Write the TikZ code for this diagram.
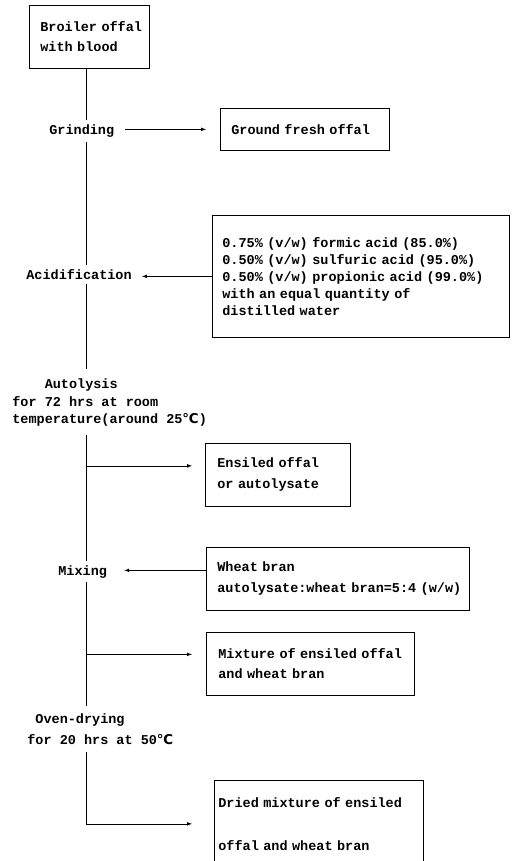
\documentclass[tikz,border=0pt]{standalone}
\usepackage{fontspec}
\setmonofont{Liberation Mono}
\newfontfamily\degfont{DejaVu Sans}
\newcommand{\dgC}{{\degfont\bfseries ℃}}

\tikzset{
  box/.style={draw, anchor=north west, align=left, inner ysep=0pt},
  stage/.style={inner xsep=0pt, inner ysep=4pt, align=left},
}

\begin{document}
\begin{tikzpicture}[x=1pt,y=1pt,line width=0.7pt,
    font=\fontsize{13.5}{17}\selectfont\ttfamily\bfseries]
    \path[use as bounding box, fill=white] (0,0) rectangle (515,-861);
    \clip (0,0) rectangle (515,-861);
    \coordinate (spine) at (86,0);
    % boxes
    \node[box, text width=98pt, inner xsep=11pt, minimum height=63pt] (broiler) at (29,-5) {\mbox{Broiler offal}\\[3pt]with blood};
    \node[box, text width=147pt, inner xsep=11pt, minimum height=42pt] (ground) at (220,-108) {Ground fresh offal};
    \node[box, text width=277pt, inner xsep=10pt, minimum height=122pt] (acidbox) at (212,-215) {0.75\% (v/w) formic acid (85.0\%)\\0.50\% (v/w) sulfuric acid (95.0\%)\\0.50\% (v/w) propionic acid (99.0\%)\\with an equal quantity of\\distilled water};
    \node[box, text width=121pt, inner xsep=12pt, minimum height=63pt] (ensiled) at (205,-443) {Ensiled offal\\[4pt]or autolysate};
    \node[box, text width=241pt, inner xsep=11pt, minimum height=63pt] (wheat) at (206,-547) {Wheat bran\\[4pt]\mbox{autolysate:wheat bran=5:4 (w/w)}};
    \node[box, text width=184pt, inner xsep=12pt, minimum height=63pt] (mixture) at (206,-632) {\mbox{Mixture of ensiled offal}\\[3pt]and wheat bran};
    \node[box, text width=201pt, inner xsep=4pt, minimum height=87pt] (dried) at (214,-780) {Dried mixture of ensiled\\[26pt]offal and wheat bran};%
    % steps
    \node[stage, anchor=base west] (grind) at (49,-134.5) {Grinding};
    \node[stage, anchor=base west] (acid) at (26,-279.5) {Acidification};
    \node[stage, anchor=west, inner ysep=9pt] (autol) at (12,-402) {\phantom{for }Autolysis\\[1pt]for 72 hrs at room\\temperature(around 25\dgC)};
    \node[stage, anchor=base west] (mix) at (58,-575) {Mixing};
    \node[stage, anchor=west, inner ysep=7pt] (oven) at (27,-729) {\hspace*{8.1pt}Oven-drying\\[4pt]for 20 hrs at 50\dgC};%
    % main line
    \draw (broiler.south -| spine) -- (grind.north -| spine);
    \draw (grind.south -| spine) -- (acid.north -| spine);
    \draw (acid.south -| spine) -- (autol.north -| spine);
    \draw (autol.south -| spine) -- (mix.north -| spine);
    \draw (mix.south -| spine) -- (oven.north -| spine);
    \coordinate (bend) at (dried.west -| spine);
    \draw[-latex, shorten >=22pt] (oven.south -| spine) -- (bend) -- (dried.west);%
    % side arrows
    \draw[-latex, shorten <=10pt, shorten >=14pt] (grind.east |- ground.west) -- (ground.west);
    \draw[-latex, shorten >=10pt] (acidbox.west) -- (acidbox.west -| acid.east);
    \coordinate (e1) at ([yshift=9pt]ensiled.west);
    \draw[-latex, shorten >=13pt] (e1 -| spine) -- (e1);
    \coordinate (w1) at ([yshift=8.5pt]wheat.west);
    \draw[-latex, shorten >=17pt] (w1) -- (w1 -| mix.east);
    \coordinate (m1) at ([yshift=9.5pt]mixture.west);
    \draw[-latex, shorten >=14pt] (m1 -| spine) -- (m1);
\end{tikzpicture}
\end{document}
